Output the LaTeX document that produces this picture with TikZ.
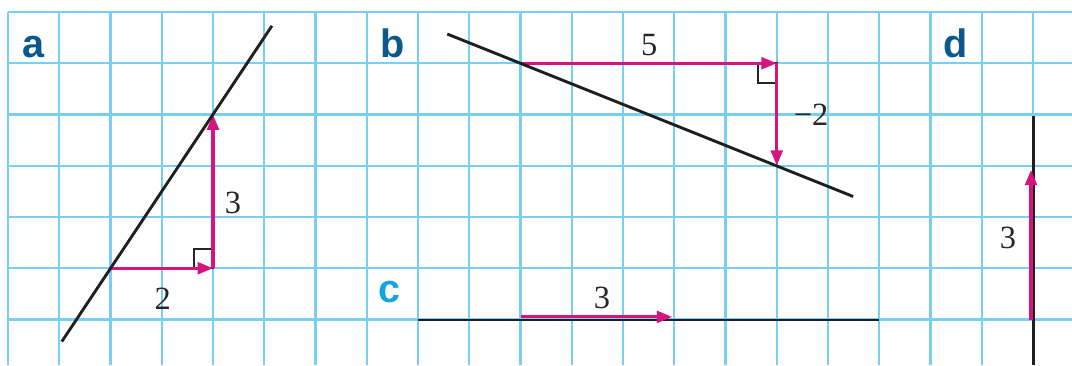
\documentclass[tikz,border=0pt]{standalone}
\usepackage{fontspec}
\setmainfont{Liberation Serif}
\newfontfamily\labfont{Liberation Sans}
\usetikzlibrary{arrows.meta}
\definecolor{gridc}{RGB}{120,206,244}
\definecolor{mag}{RGB}{214,20,128}
\definecolor{darkb}{RGB}{10,88,140}
\definecolor{lightb}{RGB}{20,165,225}
\begin{document}
\begin{tikzpicture}[x=1cm,y=1cm,
  gridline/.style={gridc, line width=1.2pt},
  blackline/.style={black!88, line width=1.6pt},
  vec/.style={mag, line width=1.7pt, -{Triangle[length=8.5pt,width=6.5pt]}},
  rtangle/.style={black!85, line width=1.1pt},
  num/.style={font=\fontsize{18}{20}\selectfont, text=black!85, inner sep=0pt},
  panel/.style={font=\labfont\bfseries\fontsize{22}{24}\selectfont, inner sep=0pt}]
\useasboundingbox (-0.156,-6.895) rectangle (20.76,0.234);
\fill[white] (-0.156,-6.895) rectangle (20.76,0.234);
% grid
\foreach \i in {0,...,20} \draw[gridline] (\i,0) -- (\i,-6.895);
\foreach \j in {0,...,6} \draw[gridline] (0,-\j) -- (20.76,-\j);

% ---------- panel a ----------
\node[panel, text=darkb] (la) at (0.49,-0.68) {a};
\coordinate (a1) at (1.05,-6.43);
\coordinate (a2) at (5.15,-0.27);
\coordinate (aP) at (2,-5);
\coordinate (aQ) at (4,-5);
\coordinate (aR) at (4,-2);
\draw[rtangle] (3.63,-5) rectangle (4,-4.63);
\draw[vec] (aP) -- (aQ);
\draw[vec] (aQ) -- (aR);
\draw[blackline] (a1) -- (a2);
\node[num] (a2lab) at (3.02,-5.59) {2};
\node[num] (a3lab) at (4.39,-3.73) {3};

% ---------- panel b ----------
\node[panel, text=darkb] (lb) at (7.51,-0.61) {b};
\coordinate (b1) at (8.57,-0.43);
\coordinate (b2) at (16.49,-3.6);
\coordinate (bP) at (10,-1);
\coordinate (bQ) at (15,-1);
\coordinate (bR) at (15,-3);
\draw[rtangle] (14.63,-1) rectangle (15,-1.39);
\draw[vec] (bP) -- (bQ);
\draw[vec] (bQ) -- (bR);
\draw[blackline] (b1) -- (b2);
\node[num] (b5lab) at (12.51,-0.64) {5};
\node[num] (bm2lab) at (15.67,-2.01) {−2};

% ---------- panel c ----------
\node[panel, text=lightb] (lc) at (7.44,-5.47) {c};
\coordinate (c1) at (8,-6.01);
\coordinate (c2) at (17,-6.01);
\coordinate (cP) at (10,-5.95);
\coordinate (cQ) at (12.96,-5.95);
\draw[blackline] (c1) -- (c2);
\draw[vec] (cP) -- (cQ);
\node[num] (c3lab) at (11.59,-5.57) {3};

% ---------- panel d ----------
\node[panel, text=darkb] (ld) at (18.48,-0.61) {d};
\coordinate (d1) at (20.01,-2.03);
\coordinate (d2) at (20.01,-6.895);
\coordinate (dP) at (19.96,-6);
\coordinate (dQ) at (19.96,-3.08);
\draw[blackline] (d1) -- (d2);
\draw[vec] (dP) -- (dQ);
\node[num] (d3lab) at (19.51,-4.41) {3};
\end{tikzpicture}
\end{document}
